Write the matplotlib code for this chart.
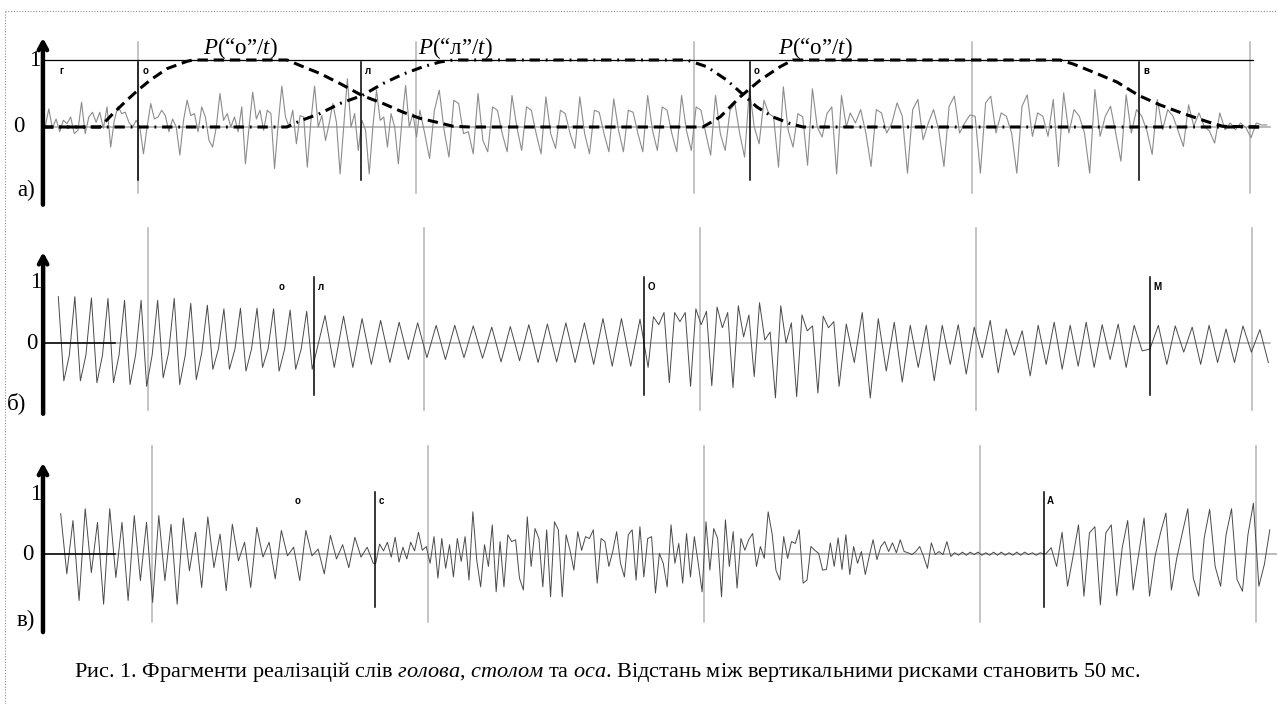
import numpy as np
import matplotlib
matplotlib.use("Agg")
import matplotlib.pyplot as plt
from matplotlib.lines import Line2D

W, H = 1277, 704

plt.rcParams["font.family"] = ["Liberation Serif", "DejaVu Serif"]
plt.rcParams["mathtext.fontset"] = "custom"
plt.rcParams["mathtext.rm"] = "Liberation Serif"
plt.rcParams["mathtext.it"] = "Liberation Serif:italic"

# vertical ticks every 50 ms
tick_ms = [0, 50, 100, 150, 200]

# ---- panel a) "голова": waveform (values per segment, evenly spaced in time)
wave_a1 = [0.0, 0.27, -0.02, 0.12, -0.07, 0.10, 0.05, 0.15, -0.10, -0.05, 0.37, -0.10, 0.15, 0.22,
           0.07, 0.22, -0.02, 0.30, -0.30, 0.10, 0.31, 0.20, 0.22, 0.07, 0.0, 0.10, 0.0, -0.40, 0.0,
           0.35, 0.12, 0.15, 0.25, 0.17, -0.07, 0.12, 0.0, -0.42, 0.10, 0.40, 0.17, 0.20, -0.07, 0.30,
           0.15, -0.20, -0.30, 0.0, 0.50, 0.10, 0.20, 0.0, 0.15, -0.07, 0.30, -0.55, 0.0, 0.52, 0.12,
           0.25, -0.05, 0.25, 0.20, -0.62, 0.05, 0.61, 0.15, 0.0, 0.25, -0.25, 0.17, 0.15, -0.60, 0.10,
           0.61, 0.0, 0.17, -0.20, 0.05, 0.35, 0.07, -0.70, 0.0, 0.72, 0.0, 0.20, -0.35, 0.10, -0.05,
           -0.70, 0.0, 0.55, 0.10, 0.15, -0.30, 0.20, 0.0, -0.55, 0.10, 0.62, 0.0, 0.20, -0.15]
wave_a2 = [0.25, -0.10, -0.47, 0.25, 0.55, -0.05, -0.45, 0.40, 0.35, -0.10, -0.07, -0.40, 0.50, -0.20,
           -0.37, 0.30, 0.25, -0.10, -0.37, 0.47, 0.0, -0.35, 0.30, 0.25, -0.10, -0.40, 0.45, -0.10,
           -0.32, 0.25, 0.20, -0.10, -0.32, 0.45, -0.10, -0.40, 0.25, 0.22, -0.10, -0.37, 0.42, -0.05,
           -0.37, 0.25, 0.22, -0.10, -0.37, 0.47, -0.05, -0.35, 0.30, 0.25, -0.10, -0.37, 0.47, -0.05,
           -0.35, 0.30, 0.25, -0.10, -0.42, 0.47, -0.10, -0.35, 0.25, 0.35, -0.10, -0.45, 0.57, 0.0,
           -0.25, 0.40, 0.20, 0.15, -0.60, 0.60, -0.05, -0.30, 0.20, 0.15, -0.57, 0.57, 0.0, -0.15,
           0.20, 0.30, -0.70, 0.47, 0.0]
wave_a3 = [0.21, 0.06, 0.26, -0.09, -0.59, 0.26, 0.21, -0.09, 0.06, 0.36, 0.16, -0.69, 0.26, 0.41,
           -0.19, 0.06, 0.26, -0.04, -0.59, 0.31, 0.46, -0.09, 0.06, 0.18, 0.16, -0.69, 0.36, 0.46,
           -0.09, 0.21, 0.16, -0.09, -0.69, 0.31, 0.48, -0.14, 0.21, 0.16, -0.14, 0.41, -0.59, 0.51,
           -0.09, 0.26, 0.16, -0.09, -0.69, 0.56, -0.14, 0.16, 0.31, -0.09, -0.51, 0.48, -0.09, 0.26,
           0.16, -0.06, -0.41, 0.41, -0.04, 0.26, 0.16, -0.06, -0.29, 0.33, 0.01, 0.21, 0.01, -0.06,
           -0.24, 0.21, -0.04, 0.06, -0.04, 0.06, -0.01, -0.16, 0.06, 0.03, 0.03]
wave_a = [wave_a1, wave_a2, wave_a3]
span_a = [(-16.7, 50.1), (50.7, 127.4), (128.1, 203.0)]

# P("о"/t) and P("л"/t) curves, ms -> probability
p_o_t = [-17.1, -6.8, -4.5, -2.0, 0.0, 2.2, 5.2, 8.8, 9.9, 26.8, 29.1, 32.7, 36.3, 40.3, 44.1, 47.7,
         50.7, 54.3, 56.7, 59.7, 101.6, 104.7, 108.3, 111.9, 115.5, 117.8, 165.8, 168.2, 171.8,
         176.1, 180.0, 183.8, 188.0, 192.3, 195.1, 202.2]
p_o_v = [0, 0, 0.2, 0.4, 0.55, 0.7, 0.87, 0.98, 1, 1, 0.92, 0.8, 0.65, 0.47, 0.35, 0.22,
         0.13, 0.06, 0.01, 0, 0, 0.15, 0.45, 0.7, 0.9, 1, 1, 0.94, 0.82,
         0.67, 0.47, 0.33, 0.2, 0.08, 0.01, 0]
p_l_t = [-17.1, 26.8, 29.1, 32.7, 36.3, 40.3, 44.1, 47.7, 51.3, 54.3, 56.7, 98.7, 102.3, 105.9,
         108.6, 111.3, 114.2, 117.3, 119.6, 202.2]
p_l_v = [0, 0, 0.09, 0.2, 0.35, 0.47, 0.65, 0.79, 0.9, 0.97, 1, 1, 0.9, 0.7,
         0.5, 0.3, 0.15, 0.05, 0, 0]

marks_a = [0.0, 40.1, 110.1, 180.0]
letters_a = [(-14.2, "г"), (0.9, "о"), (40.8, "л"), (110.8, "о"), (180.8, "в")]

# ---- panel б) "столом"
wave_b1 = [0.76, -0.62, -0.2, 0.76, -0.62, -0.2, 0.74, -0.65, -0.2, 0.73, -0.65, -0.2, 0.70, -0.68,
           -0.2, 0.70, -0.71, -0.2, 0.70, -0.57, -0.15, 0.73, -0.68, -0.2, 0.65, -0.60, -0.15, 0.62,
           -0.43, -0.1, 0.56, -0.43, -0.1, 0.57, -0.46, -0.1, 0.57, -0.40, -0.1, 0.56, -0.46, -0.1,
           0.54, -0.43, -0.1, 0.52, -0.43]
wave_b2 = [0.45, -0.40, 0.44, -0.40, 0.40, -0.35, 0.37, -0.32, 0.34, -0.27, 0.33, -0.24, 0.29, -0.27,
           0.29, -0.24, 0.28, -0.25, 0.26, -0.31, 0.27, -0.29, 0.30, -0.32, 0.31, -0.31, 0.33, -0.32,
           0.33, -0.35, 0.40, -0.38, 0.40, -0.38, 0.39]
wave_b3 = [-0.40, 0.43, 0.30, 0.50, -0.65, 0.50, 0.35, 0.50, -0.71, 0.56, 0.30, 0.52, -0.70, 0.59,
           0.25, 0.50, -0.73, 0.61, 0.10, 0.46, -0.55, 0.66, 0.05, 0.18, -0.90, 0.61, 0.0, 0.33,
           -0.88, 0.46, 0.20, 0.28, -0.82, 0.44, 0.25, 0.35, -0.71]
wave_b4 = [0.31, -0.32, 0.50, -0.90, 0.40, -0.46, 0.34, -0.64, 0.29, -0.40, 0.29, -0.62, 0.29, -0.35,
           0.30, -0.51, 0.26, -0.24, 0.37, -0.49, 0.23, -0.20, 0.20, -0.54, 0.29, -0.35, 0.34, -0.43,
           0.29, -0.38, 0.34, -0.40, 0.30, -0.27, 0.31, -0.40, 0.29, -0.13]
wave_b5 = [-0.10, 0.29, -0.35, 0.28, -0.15, 0.26, -0.35, 0.29, -0.32, 0.23, -0.32, 0.28, -0.15, 0.22,
           -0.32]
wave_b = [wave_b1, wave_b2, wave_b3, wave_b4, wave_b5]
span_b = [(-16.25, 29.75), (32.07, 89.13), (90.6, 125.2), (126.5, 180.1), (181.5, 202.96)]

marks_b = [30.07, 89.86, 181.5]
letters_b = [(23.6, "о"), (30.8, "л"), (90.6, "О"), (182.2, "М")]

# ---- panel в) "оса"
wave_c1 = [0.65, -0.32, 0.54, -0.75, 0.73, -0.30, 0.51, -0.81, 0.73, -0.38, 0.51, -0.75, 0.62, -0.43,
           0.51, -0.78, 0.62, -0.43, 0.48, -0.81, 0.58, -0.27, 0.35, -0.54, 0.60, -0.22, 0.32, -0.59,
           0.48, -0.11, 0.19, -0.54, 0.43, -0.05, 0.19, -0.40, 0.38, -0.03, 0.11, -0.43, 0.38, -0.03,
           0.08, -0.32, 0.30, -0.08, 0.15, -0.22, 0.27, -0.05, 0.11, -0.15]
wave_c2 = [-0.15, 0.16, 0.05, 0.19, -0.05, 0.27, -0.13, 0.11, -0.08, 0.19, 0.05, 0.35,
           0.06, 0.12, -0.15, 0.28, -0.39, 0.25, -0.23, 0.15, -0.37, 0.25, -0.12, 0.28, -0.42, 0.68,
           -0.10, -0.53, 0.15, -0.20, 0.47, -0.61, 0.20, -0.53, 0.31, 0.20, 0.23, -0.39, -0.58, 0.60,
           -0.20, 0.41, 0.25, -0.53, 0.39, -0.69, 0.52, 0.39, -0.69, 0.31, 0.06, -0.26, 0.36, 0.06,
           0.28, 0.25, 0.39, -0.47, 0.25, 0.20, -0.20, 0.04, 0.36, -0.15, -0.37, 0.31, 0.39, -0.42,
           0.44, -0.37, 0.25, 0.28, -0.63, 0.01, -0.15, -0.53, 0.47, -0.15, 0.17, -0.47, 0.33, -0.37,
           0.28, -0.15, -0.61, 0.52, -0.26, 0.41, 0.25, -0.69, 0.55, -0.20, 0.36, -0.55, 0.25, 0.06,
           0.23, 0.33, -0.20, 0.12, -0.07, 0.68, 0.33, -0.26, -0.42, 0.28, -0.07, 0.20, 0.17, 0.39,
           -0.47, -0.42, 0.12, 0.06, 0.01, -0.26,
           -0.25, 0.18, -0.20, 0.26, -0.25, 0.31, -0.33, 0.12, -0.15, 0.04, -0.33, -0.04, 0.23, -0.09,
           0.12, 0.20, 0.04, 0.18, 0.02, 0.23, 0.04, 0.02, -0.01, 0.04, 0.12, -0.04, -0.23, 0.18,
           -0.01, 0.04, -0.01, 0.20, -0.04,
           0.02, -0.02, 0.03, -0.02, 0.03, -0.01, 0.03, -0.02, 0.02, -0.02, 0.03, -0.02, 0.03, -0.02,
           0.02, -0.02, 0.03, -0.02, 0.03, -0.01, 0.02, -0.02, 0.02, 0.0]
wave_c3 = [0.0, 0.10, -0.20, 0.35, -0.52, -0.04, 0.47, -0.68, 0.34, 0.44, -0.82, 0.34, 0.47, -0.67,
           0.10, 0.54, -0.58, -0.01, 0.58, -0.68, -0.04, 0.34, 0.66, -0.58, -0.06, 0.34, 0.73, -0.39,
           -0.68, 0.26, 0.72, -0.20, -0.52, 0.31, 0.73, -0.41, -0.60, 0.31, 0.82, -0.52, -0.17, 0.39]
wave_c = [wave_c1, wave_c2, wave_c3]
span_c = [(-16.54, 40.09), (40.53, 161.6), (161.9, 202.5)]

marks_c = [40.4, 161.6]
letters_c = [(25.9, "о"), (41.1, "с"), (162.1, "А")]

fig = plt.figure(figsize=(W / 100, H / 100), dpi=100)


def panel(top, bottom, zero, unit, origin, ppm):
    """Axes spanning the full width; x in ms, y in relative amplitude."""
    ax = fig.add_axes([0, 1 - bottom / H, 1, (bottom - top) / H])
    ax.set_xlim(-origin / ppm, (W - origin) / ppm)
    ax.set_ylim((zero - bottom) / unit, (zero - top) / unit)
    ax.axis("off")
    return ax


def draw_wave(ax, segments, spans, color, lw):
    # segments are joined into one continuous trace
    t = np.concatenate([np.linspace(t0, t1, len(v)) for v, (t0, t1) in zip(segments, spans)])
    v = np.concatenate([np.asarray(s, dtype=float) for s in segments])
    ax.plot(t, v, color=color, lw=lw, zorder=3)


def draw_common(ax, x_axis, y_arrow, tick_y, zero_end, marks, mark_y, letters, letter_y,
                short_zero=None):
    for t in tick_ms:
        ax.plot([t, t], tick_y, color="#b4b4b4", lw=1.1, zorder=1)
    ax.plot([x_axis, zero_end], [0, 0], color="#a8a8a8", lw=1.1, zorder=1)
    if short_zero is not None:
        ax.plot(short_zero, [0, 0], color="black", lw=1.1, zorder=4)
    for t in marks:
        ax.plot([t, t], mark_y, color="black", lw=1.1, zorder=5)
    for t, s in letters:
        ax.text(t, letter_y, s, fontsize=7, fontweight="bold", family="Liberation Sans",
                ha="left", va="center", zorder=6)
    ax.annotate("", xy=(x_axis, y_arrow[1]), xytext=(x_axis, y_arrow[0]),
                arrowprops=dict(arrowstyle="->,head_length=0.55,head_width=0.3", lw=3.2,
                                color="black", shrinkA=0, shrinkB=0), zorder=7)


# panel a
ax_a = panel(30, 215, 127, 67, 138, 5.56)
draw_common(ax_a, -17.1, (-1.16, 1.33), (-0.985, 1.27), 203.6, marks_a, (-0.79, 0.97),
            letters_a, 0.83)
ax_a.plot([-17.1, 200.5], [1, 1], color="black", lw=0.9, zorder=2)
draw_wave(ax_a, wave_a, span_a, "#8c8c8c", 0.8)
ax_a.plot(p_o_t, p_o_v, color="black", lw=2.2, dashes=(3.4, 1.9), zorder=4)
ax_a.plot(p_l_t, p_l_v, color="black", lw=2.2, dashes=(3.4, 1.9, 0.6, 1.9), zorder=4)

# panel б
ax_b = panel(225, 420, 343, 61, 148, 5.52)
draw_common(ax_b, -19.0, (-1.16, 1.49), (-1.10, 1.885), 203.3, marks_b, (-0.85, 1.08),
            letters_b, 0.91, short_zero=[-18.66, -5.98])
draw_wave(ax_b, wave_b, span_b, "#4a4a4a", 0.7)

# panel в
ax_c = panel(440, 640, 554, 62, 152, 5.52)
draw_common(ax_c, -19.75, (-1.26, 1.47), (-1.10, 1.742), 203.8, marks_c, (-0.855, 1.0),
            letters_c, 0.85, short_zero=[-19.38, -6.70])
draw_wave(ax_c, wave_c, span_c, "#4a4a4a", 0.7)


def ftext(px, py, s, **kw):
    fig.text(px / W, 1 - py / H, s, **kw)


# axis labels
for px, py, s in [(35, 60, "1"), (19, 126, "0"), (26, 190, "а)"),
                  (36, 282, "1"), (32, 343, "0"), (17, 403, "б)"),
                  (36, 494, "1"), (28, 555, "0"), (26, 620, "в)")]:
    ftext(px, py, s, fontsize=16.5, ha="center", va="center")

# probability curve labels
for px, s in [(240, "$P$(“о”/$t$)"), (455, "$P$(“л”/$t$)"), (815, "$P$(“о”/$t$)")]:
    ftext(px, 54, s, fontsize=16.5, ha="center", va="baseline")

caption = (r"Рис. 1. Фрагменти реалізацій слів $\mathit{голова}$, $\mathit{столом}$ та "
           r"$\mathit{оса}$. Відстань між вертикальними рисками становить 50 мс.")
ftext(74, 672, caption, fontsize=16, ha="left", va="center")

# dotted frame
fig.add_artist(Line2D([5 / W, 1], [1 - 11 / H, 1 - 11 / H], transform=fig.transFigure,
                      color="#909090", lw=0.8, ls=(0, (1, 1.5))))
fig.add_artist(Line2D([5 / W, 5 / W], [0, 1 - 11 / H], transform=fig.transFigure,
                      color="#909090", lw=0.8, ls=(0, (1, 1.5))))

fig.savefig("out.png", dpi=100, facecolor="white")
